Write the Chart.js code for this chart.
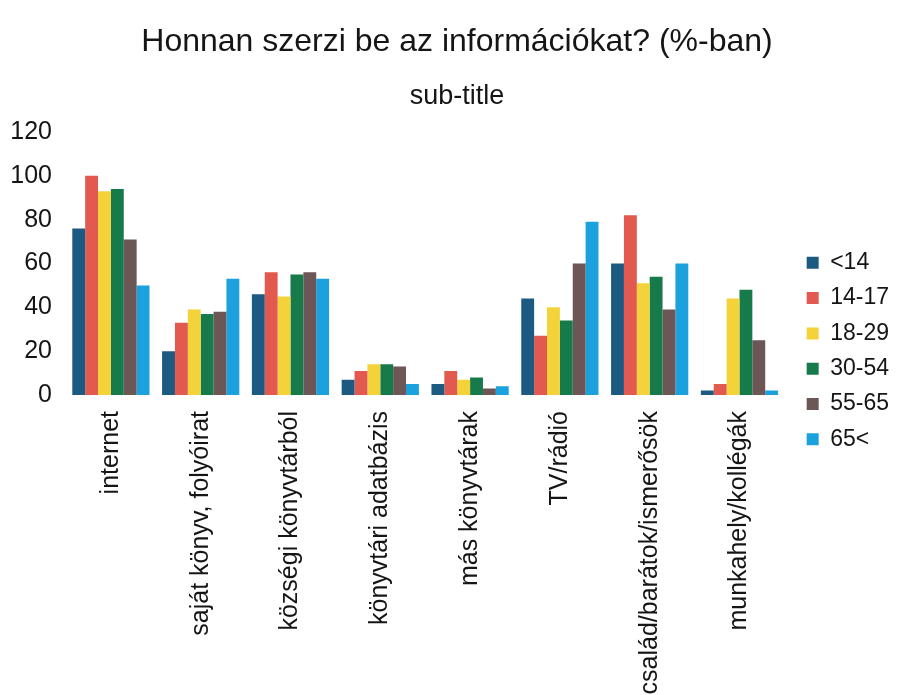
<!DOCTYPE html>
<html>
<head>
<meta charset="utf-8">
<script src="https://cdn.jsdelivr.net/npm/chart.js@4/dist/chart.umd.min.js"></script>
<style>
html,body{margin:0;padding:0;background:#fff;}
#wrap{width:899px;height:695px;}
</style>
</head>
<body>
<div id="wrap"><canvas id="c" width="899" height="695"></canvas></div>
<script>
const categories = ["internet","saját könyv, folyóirat","községi könyvtárból","könyvtári adatbázis","más könyvtárak","TV/rádió","család/barátok/ismerősök","munkahely/kollégák"];
const seriesNames = ["<14","14-17","18-29","30-54","55-65","65<"];
const under14 = [76,20,46,7,5,44,60,2];
const age14to17 = [100,33,56,11,11,27,82,5];
const age18to29 = [93,39,45,14,7,40,51,44];
const age30to54 = [94,37,55,14,8,34,54,48];
const age55to65 = [71,38,56,13,3,60,39,25];
const over65 = [50,53,53,5,4,79,60,2];
const yTicks = [0,20,40,60,80,100,120];
const colors = ["#1d5a82","#e2594f","#f4d23a","#167a4b","#6c5656","#1ba2de"];

const allSeries = [under14, age14to17, age18to29, age30to54, age55to65, over65];
const datasets = allSeries.map((d,i)=>({
  label: seriesNames[i],
  data: d,
  backgroundColor: colors[i],
  borderWidth: 0,
  categoryPercentage: 0.86,
  barPercentage: 1.0,
  yAxisID: 'y'
}));

const FONT = "'Liberation Sans', Arial, sans-serif";
const TXT = '#151515';
new Chart(document.getElementById('c'), {
  type: 'bar',
  data: { labels: categories, datasets },
  options: {
    responsive: false,
    animation: false,
    layout: { padding: { left: 15, right: 0, top: 0, bottom: 0 } },
    plugins: {
      title: {
        display: true,
        text: "Honnan szerzi be az információkat? (%-ban)",
        color: TXT,
        font: { family: FONT, size: 32, weight: 'normal' },
        padding: { top: 23, bottom: 11 }
      },
      subtitle: {
        display: true,
        text: "sub-title",
        color: TXT,
        font: { family: FONT, size: 27, weight: 'normal' },
        padding: { top: 8.4, bottom: 18.8 }
      },
      legend: {
        position: 'right',
        align: 'start',
        title: { display: true, text: ' ', font: { size: 10 }, padding: { top: 227, bottom: 0 } },
        labels: {
          color: TXT,
          font: { family: FONT, size: 23 },
          boxWidth: 12,
          boxHeight: 12,
          padding: 12.3
        }
      },
      tooltip: { enabled: false }
    },
    scales: {
      x: {
        grid: { display: false, drawTicks: false },
        border: { display: false },
        ticks: {
          color: TXT,
          font: { family: FONT, size: 25 },
          maxRotation: 90, minRotation: 90,
          padding: 16,
          autoSkip: false
        },
        afterFit(scale) { scale.height = 300; }
      },
      y: {
        min: 0, max: 120,
        grid: { display: false, drawTicks: false },
        border: { display: false },
        afterBuildTicks(scale) { scale.ticks = yTicks.map(v=>({value:v})); },
        ticks: {
          color: TXT,
          font: { family: FONT, size: 25 },
          padding: 14
        },
        afterFit(scale) {
          scale.width = 51;
          scale._computeLabelArea = function () { return undefined; };
        }
      },
      gap: {
        position: 'right',
        grid: { display: false, drawTicks: false },
        border: { display: false },
        ticks: { display: false },
        afterFit(scale) { scale.width = 10; }
      }
    }
  }
});
</script>
</body>
</html>
